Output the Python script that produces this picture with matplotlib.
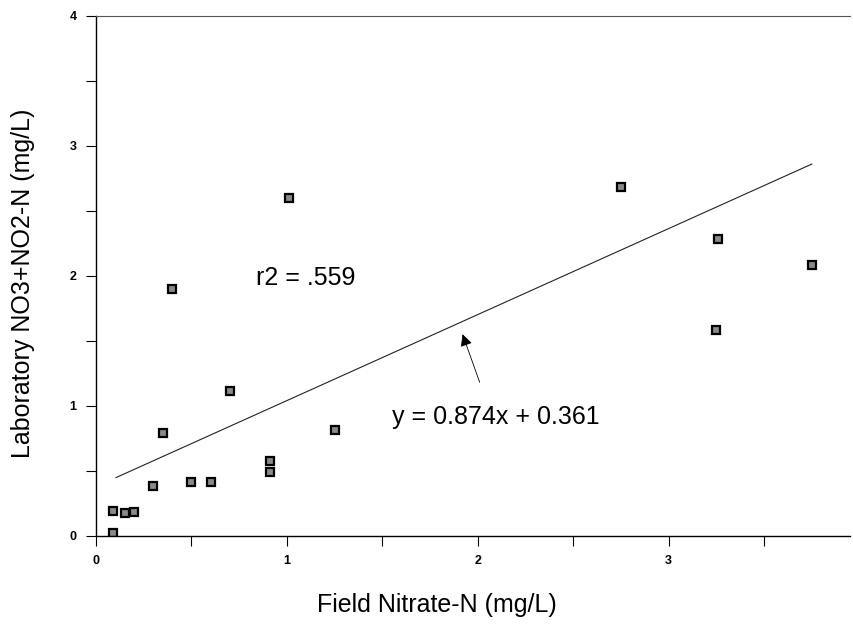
import matplotlib
matplotlib.use("Agg")
import matplotlib.pyplot as plt
from matplotlib.ticker import MultipleLocator

plt.rcParams["font.family"] = ["Liberation Sans", "DejaVu Sans"]

# field vs laboratory nitrate readings (mg/L)
field_n = [0.09, 0.09, 0.15, 0.20, 0.30, 0.35, 0.40, 0.50, 0.60, 0.70,
           0.91, 0.91, 1.01, 1.25, 2.75, 3.25, 3.26, 3.75]
lab_n = [0.02, 0.19, 0.17, 0.18, 0.38, 0.79, 1.90, 0.41, 0.41, 1.11,
         0.57, 0.49, 2.60, 0.81, 2.68, 1.58, 2.28, 2.08]

# regression line as drawn on the original
fit_x = [0.105, 3.75]
fit_y = [0.446, 2.86]

r2_text = "r2 = .559"
eq_text = "y = 0.874x + 0.361"

fig = plt.figure(figsize=(8.54, 6.27), dpi=100)
ax = fig.add_axes([96 / 854, (627 - 535.5) / 627, (850 - 96) / 854, (535.5 - 16) / 627])

ax.plot(fit_x, fit_y, color="#222222", lw=0.8)
ax.plot(field_n, lab_n, ls="none", marker="s", markersize=6,
        markerfacecolor="#8a8a8a", markeredgecolor="black", markeredgewidth=1.6)

ax.text(0.84, 1.98, r2_text, fontsize=18, va="center", ha="left")
ax.text(1.55, 0.91, eq_text, fontsize=18, va="center", ha="left")
ax.annotate("", xy=(1.92, 1.55), xytext=(2.01, 1.18),
            arrowprops=dict(arrowstyle="-|>", color="black", lw=0.6,
                            mutation_scale=18, shrinkA=0, shrinkB=0))

ax.set_xlim(0, 3.95)
ax.set_ylim(0, 4)
ax.xaxis.set_major_locator(MultipleLocator(1))
ax.xaxis.set_minor_locator(MultipleLocator(0.5))
ax.yaxis.set_major_locator(MultipleLocator(1))
ax.yaxis.set_minor_locator(MultipleLocator(0.5))
ax.tick_params(which="both", direction="out", length=7, width=0.8, labelsize=9)
ax.tick_params(axis="x", pad=7)
ax.tick_params(axis="y", pad=7)
for lbl in ax.get_xticklabels() + ax.get_yticklabels():
    lbl.set_fontweight("bold")

ax.spines["right"].set_visible(False)
ax.spines["top"].set_color("#555555")
ax.spines["top"].set_linewidth(0.8)
ax.spines["left"].set_linewidth(1.0)
ax.spines["bottom"].set_linewidth(1.0)

ax.set_xlabel("Field Nitrate-N (mg/L)", fontsize=18)
ax.xaxis.set_label_coords((437 - 96) / 754, -(593 - 535.5) / 519.5)
ax.set_ylabel("Laboratory NO3+NO2-N (mg/L)", fontsize=18)
ax.yaxis.set_label_coords(-(96 - 35) / 754, (535.5 - 283) / 519.5)

fig.savefig("out.png", dpi=100)
